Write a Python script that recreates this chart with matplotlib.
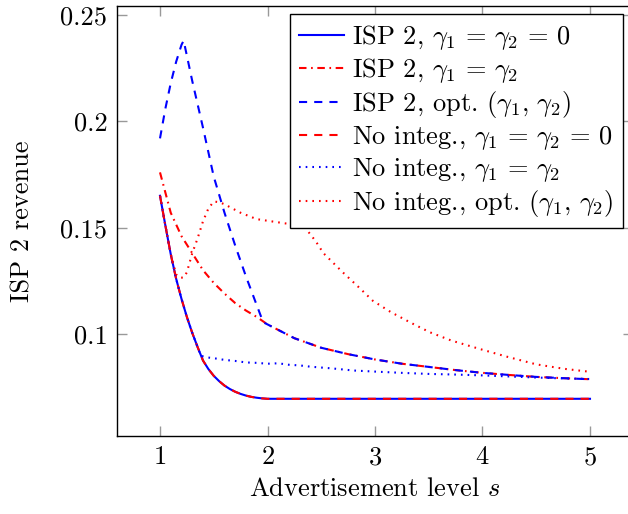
import matplotlib
matplotlib.use("Agg")
import matplotlib.pyplot as plt

plt.rcParams["font.family"] = "serif"
plt.rcParams["font.serif"] = ["cmr10", "DejaVu Serif"]
plt.rcParams["mathtext.fontset"] = "cm"
plt.rcParams["axes.formatter.use_mathtext"] = True

# ISP 2, gamma1 = gamma2 = 0 (also "No integ., gamma1 = gamma2 = 0")
s_zero = [1.0, 1.05, 1.1, 1.15, 1.2, 1.25, 1.3, 1.35, 1.4, 1.45, 1.5, 1.55, 1.6, 1.65, 1.7, 1.75,
          1.8, 1.85, 1.9, 1.95, 2.0, 2.5, 3.0, 3.5, 4.0, 4.5, 5.0]
rev_zero = [0.165, 0.151, 0.1375, 0.126, 0.1165, 0.108, 0.1005, 0.0938, 0.0875, 0.0835, 0.0803,
            0.0778, 0.0757, 0.0741, 0.0728, 0.0718, 0.0710, 0.0704, 0.0700, 0.0697, 0.0695,
            0.0695, 0.0695, 0.0695, 0.0695, 0.0695, 0.0695]

# ISP 2, gamma1 = gamma2
s_eq = [1.0, 1.1, 1.2, 1.3, 1.4, 1.5, 1.6, 1.7, 1.8, 1.9, 2.0, 2.25, 2.5, 2.75, 3.0, 3.25, 3.5,
        3.75, 4.0, 4.25, 4.5, 4.75, 5.0]
rev_eq = [0.176, 0.157, 0.146, 0.138, 0.130, 0.124, 0.119, 0.1145, 0.111, 0.108, 0.1045, 0.098,
          0.0935, 0.0905, 0.088, 0.086, 0.0845, 0.083, 0.0817, 0.0807, 0.0798, 0.0792, 0.0787]

# ISP 2, optimal (gamma1, gamma2)
s_opt = [1.0, 1.05, 1.1, 1.15, 1.2, 1.22, 1.3, 1.4, 1.5, 1.6, 1.7, 1.8, 1.9, 1.96, 2.0, 2.25,
         2.5, 2.75, 3.0, 3.25, 3.5, 3.75, 4.0, 4.25, 4.5, 4.75, 5.0]
rev_opt = [0.192, 0.206, 0.218, 0.228, 0.236, 0.238, 0.219, 0.197, 0.174, 0.157, 0.1415, 0.127,
           0.1135, 0.1055, 0.1045, 0.098, 0.0935, 0.0905, 0.088, 0.086, 0.0845, 0.083, 0.0817,
           0.0807, 0.0798, 0.0792, 0.0787]

# No integration, gamma1 = gamma2
s_ni_eq = [1.0, 1.05, 1.1, 1.15, 1.2, 1.25, 1.3, 1.35, 1.38, 1.45, 1.5, 1.6, 1.7, 1.8, 1.9, 2.0,
           2.1, 2.2, 2.3, 2.4, 2.6, 2.7, 2.8, 3.0, 3.25, 3.5, 3.75, 4.0, 4.25, 4.5, 4.75, 5.0]
rev_ni_eq = [0.165, 0.151, 0.1375, 0.126, 0.1165, 0.108, 0.1005, 0.0938, 0.0897, 0.0889, 0.0886,
             0.0878, 0.0873, 0.0866, 0.0864, 0.0860, 0.0862, 0.0855, 0.0852, 0.0846, 0.0838,
             0.0833, 0.0828, 0.0823, 0.0817, 0.0812, 0.0809, 0.0805, 0.0800, 0.0795, 0.0791,
             0.0788]

# No integration, optimal (gamma1, gamma2)
s_ni_opt = [1.0, 1.05, 1.1, 1.15, 1.18, 1.22, 1.25, 1.3, 1.35, 1.4, 1.45, 1.5, 1.55, 1.6, 1.75,
            1.9, 2.1, 2.3, 2.35, 2.45, 2.52, 2.6, 2.7, 2.84, 2.98, 3.15, 3.34, 3.51, 3.71, 3.97,
            4.22, 4.5, 4.76, 5.0]
rev_ni_opt = [0.165, 0.151, 0.1375, 0.128, 0.1265, 0.1265, 0.129, 0.138, 0.145, 0.153, 0.159,
              0.1623, 0.162, 0.161, 0.157, 0.154, 0.1525, 0.151, 0.150, 0.1435, 0.138, 0.134,
              0.129, 0.1224, 0.1156, 0.1102, 0.1051, 0.1008, 0.0969, 0.093, 0.0894, 0.0857,
              0.0836, 0.0822]

labels = [
    r"ISP 2, $\gamma_1\,=\,\gamma_2\,=\,0$",
    r"ISP 2, $\gamma_1\,=\,\gamma_2$",
    r"ISP 2, opt. $(\gamma_1,\,\gamma_2)$",
    r"No integ., $\gamma_1\,=\,\gamma_2\,=\,0$",
    r"No integ., $\gamma_1\,=\,\gamma_2$",
    r"No integ., opt. $(\gamma_1,\,\gamma_2)$",
]
x_ticks = [1, 2, 3, 4, 5]
y_ticks = [0.1, 0.15, 0.2, 0.25]
y_tick_labels = ["0.1", "0.15", "0.2", "0.25"]

fs = 19
lw = 1.5
dashed = (0, (3.9, 3.4))
dashdot = (0, (3.6, 2.2, 0.8, 2.2))
dotted = (0, (0.8, 2.4))

fig = plt.figure(figsize=(6.28, 5.14), dpi=100)
ax = fig.add_axes([117 / 628, 78 / 514, 516 / 628, 430.5 / 514])

ax.plot(s_zero, rev_zero, color="blue", lw=lw, linestyle="-", label=labels[0])
ax.plot(s_eq, rev_eq, color="red", lw=lw, linestyle=dashdot, label=labels[1])
ax.plot(s_opt, rev_opt, color="blue", lw=lw, linestyle=dashed, label=labels[2])
ax.plot(s_zero, rev_zero, color="red", lw=lw, linestyle=dashed, label=labels[3])
ax.plot(s_ni_eq, rev_ni_eq, color="blue", lw=lw, linestyle=dotted, label=labels[4])
ax.plot(s_ni_opt, rev_ni_opt, color="red", lw=lw, linestyle=dotted, label=labels[5])

ax.set_xlim(0.6, 5.4)
ax.set_ylim(0.052, 0.2545)
ax.set_xticks(x_ticks)
ax.set_yticks(y_ticks)
ax.set_yticklabels(y_tick_labels)
ax.tick_params(direction="in", length=7, width=1.0, color="0.6", labelsize=fs,
               top=True, right=True, pad=7)
for sp in ax.spines.values():
    sp.set_linewidth(1.0)

ax.set_xlabel(r"Advertisement level $s$", fontsize=fs)
ax.set_ylabel("ISP 2 revenue", fontsize=fs)
ax.xaxis.set_label_coords(0.5, -0.097)
ax.yaxis.set_label_coords(-0.16, 0.5)

leg = ax.legend(loc="upper right", bbox_to_anchor=(0.98, 0.98), borderaxespad=0,
                fontsize=fs, fancybox=False, edgecolor="black", framealpha=1,
                handlelength=1.7, handletextpad=0.3, labelspacing=0.15, borderpad=0.35)
leg.get_frame().set_linewidth(1.0)

fig.savefig("out.png", dpi=100)
